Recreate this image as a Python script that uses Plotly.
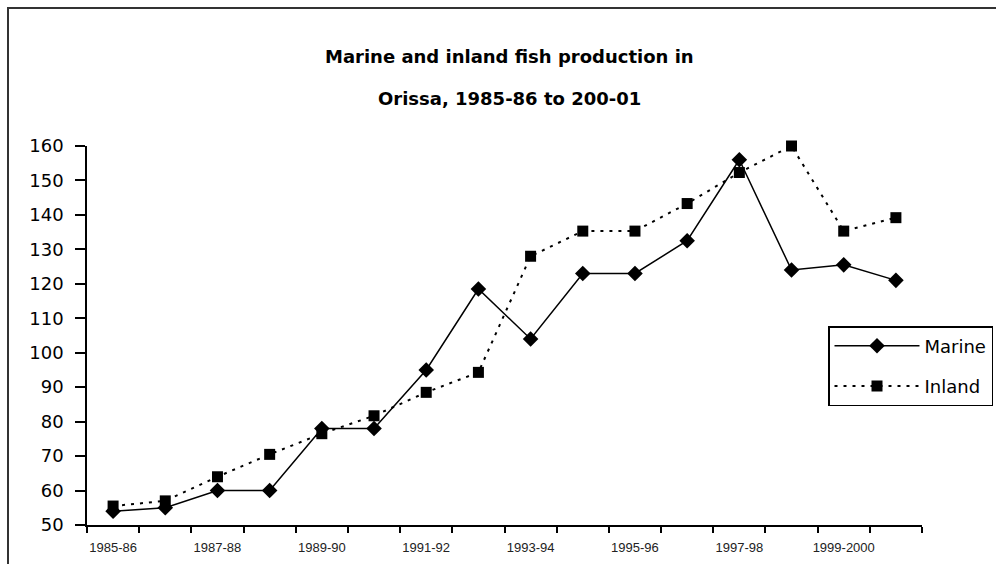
import plotly.graph_objects as go

# Fish production in Orissa (thousand tonnes), 1985-86 to 2000-01
years = ["1985-86", "1986-87", "1987-88", "1988-89", "1989-90", "1990-91",
         "1991-92", "1992-93", "1993-94", "1994-95", "1995-96", "1996-97",
         "1997-98", "1998-99", "1999-2000", "2000-01"]
marine = [54, 55, 60, 60, 78, 78, 95, 118.5, 104, 123, 123, 132.5, 156, 124, 125.5, 121]
inland = [55.5, 57, 64, 70.5, 76.5, 81.7, 88.5, 94.3, 128, 135.3, 135.3, 143.3, 152.3, 160, 135.3, 139.2]

# only every other year is labelled on the category axis
tick_text = [y if i % 2 == 0 else "" for i, y in enumerate(years)]
y_ticks = list(range(50, 161, 10))

title_line1 = "Marine and inland fish production in"
title_line2 = "Orissa, 1985-86 to 200-01"

W, H = 996, 564
L, R, T, B = 87, 74, 146, 39
PW, PH = W - L - R, H - T - B


def px_x(p):
    return (p - L) / PW


def px_y(p):
    return (H - B - p) / PH


fig = go.Figure()
fig.add_trace(go.Scatter(
    x=years, y=marine, name="Marine", mode="lines+markers",
    line=dict(color="black", width=1.5),
    marker=dict(symbol="diamond", size=12, color="black"),
    legendgroup="a", cliponaxis=False,
))
fig.add_trace(go.Scatter(
    x=years, y=inland, name="Inland", mode="lines+markers",
    line=dict(color="black", width=2, dash="3px,6px"),
    marker=dict(symbol="square", size=11, color="black"),
    legendgroup="b", cliponaxis=False,
))

body_font = "DejaVu Sans"

fig.update_layout(
    width=W, height=H,
    margin=dict(l=L, r=R, t=T, b=B, pad=0, autoexpand=False),
    paper_bgcolor="white", plot_bgcolor="white",
    showlegend=True,
    legend=dict(
        x=px_x(828), y=px_y(326), xanchor="left", yanchor="top",
        bordercolor="black", borderwidth=1.5, bgcolor="white",
        font=dict(family=body_font, size=18, color="black"),
        tracegroupgap=14, itemwidth=85,
        entrywidth=95, entrywidthmode="pixels",
        traceorder="grouped",
    ),
    xaxis=dict(
        type="category", range=[-0.5, len(years) - 0.5],
        tickmode="array", tickvals=years, ticktext=tick_text,
        tickson="boundaries", ticks="outside", ticklen=6, tickwidth=1.5,
        tickcolor="black", showline=True, linecolor="black", linewidth=2,
        showgrid=False, zeroline=False, tickangle=0,
        tickfont=dict(family="Liberation Sans", size=13, color="#222"),
        ticklabelstandoff=9,
    ),
    yaxis=dict(
        range=[50, 160], tickmode="array", tickvals=y_ticks,
        ticks="outside", ticklen=10, tickwidth=1.5, tickcolor="black",
        showline=True, linecolor="black", linewidth=1.5,
        showgrid=False, zeroline=False,
        tickfont=dict(family=body_font, size=18, color="black"),
        ticklabelstandoff=8,
    ),
    shapes=[dict(
        type="rect", xref="paper", yref="paper",
        x0=px_x(8), y0=px_y(600), x1=px_x(1020), y1=px_y(8),
        line=dict(color="#333333", width=2), fillcolor="rgba(0,0,0,0)",
        layer="below",
    )],
    annotations=[
        dict(text=f"<b>{title_line1}</b>", xref="paper", yref="paper",
             x=px_x(510), y=px_y(57), xanchor="center", yanchor="middle",
             showarrow=False, font=dict(family=body_font, size=18, color="black")),
        dict(text=f"<b>{title_line2}</b>", xref="paper", yref="paper",
             x=px_x(510), y=px_y(99), xanchor="center", yanchor="middle",
             showarrow=False, font=dict(family=body_font, size=18, color="black")),
    ],
)

fig.write_html("out.html")
